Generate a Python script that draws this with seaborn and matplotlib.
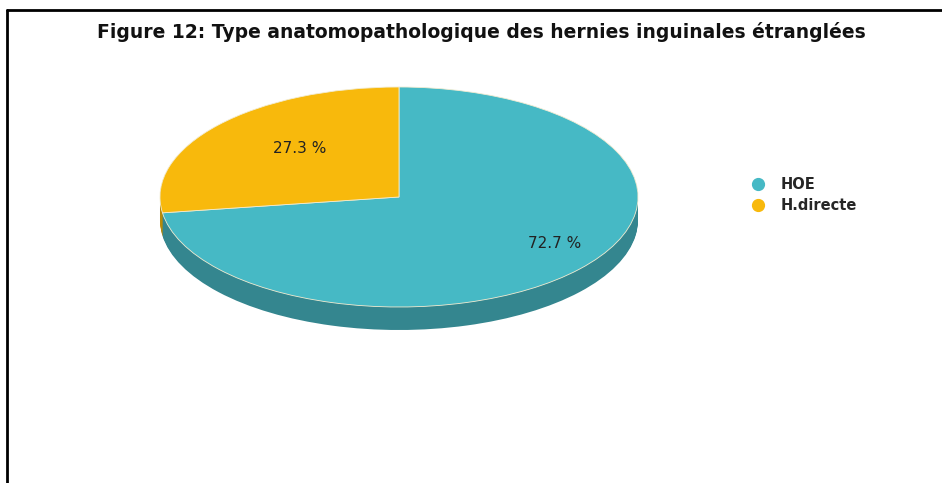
import matplotlib
matplotlib.use("Agg")
import matplotlib.pyplot as plt
from matplotlib.lines import Line2D
import seaborn as sns

# Type anatomopathologique des hernies inguinales etranglees (3D-looking pie)

labels = ["HOE", "H.directe"]
values = [72.7, 27.3]
top_colors = ["#46b9c5", "#f8b90c"]
side_colors = ["#34868f", "#b88a0a"]
title = "Figure 12: Type anatomopathologique des hernies inguinales étranglées"

sns.set_style("white")
plt.rcParams['font.family'] = ['DejaVu Sans']

fig = plt.figure(figsize=(9.42, 4.83), dpi=100)

# pie axes sized in pixels so the circle turns into a flat ellipse
W, H = 942, 483
x0, x1 = 160, 638
y_top, y_bot = 87, 330
ry = 110
depth = 23 / ry
ax = fig.add_axes([x0 / W, (H - y_bot) / H, (x1 - x0) / W, (y_bot - y_top) / H])

# side wall: stack of darker pies shifted downwards
n_layers = 24
for i in range(n_layers, 0, -1):
    dy = depth * i / n_layers
    ax.pie(values, colors=side_colors, startangle=90, counterclock=False,
           center=(0, -dy), radius=1, frame=True,
           wedgeprops=dict(linewidth=0, antialiased=True))

wedges, texts, autotexts = ax.pie(
    values, colors=top_colors, startangle=90, counterclock=False,
    center=(0, 0), radius=1, frame=True, autopct="%.1f %%", pctdistance=0.66,
    wedgeprops=dict(linewidth=0.6, edgecolor="#f2ecd2"),
    textprops=dict(fontsize=11, color="#222222"))
ax.set_xlim(-1, 1)
ax.set_ylim(-1 - depth, 1)
ax.set_aspect("auto")
ax.axis("off")

# small nudges of the slice labels, as in the reference
px, py = autotexts[0].get_position()
autotexts[0].set_position((px + 0.15, py + 0.01))
px, py = autotexts[1].get_position()
autotexts[1].set_position((px + 0.085, py + 0.01))

# legend with round markers
handles = [Line2D([0], [0], marker="o", linestyle="", markersize=8.5,
                  markerfacecolor=c, markeredgecolor=c) for c in top_colors]
fig.legend(handles, labels, loc="upper left", bbox_to_anchor=(730 / W, 1 - 164 / H),
           frameon=False, handletextpad=0.55, labelspacing=0.42,
           prop=dict(weight="bold", size=10.5))

fig.text(481 / W, 1 - 32 / H, title, ha="center", va="center",
         fontsize=13.5, fontweight="bold", color="#111111")

# frame lines of the original screenshot (top and left only)
fig.add_artist(Line2D([7 / W, 1], [1 - 10 / H, 1 - 10 / H], color="black", lw=2))
fig.add_artist(Line2D([7 / W, 7 / W], [0, 1 - 10 / H], color="black", lw=2))

plt.savefig("out.png", dpi=100)
plt.close()
